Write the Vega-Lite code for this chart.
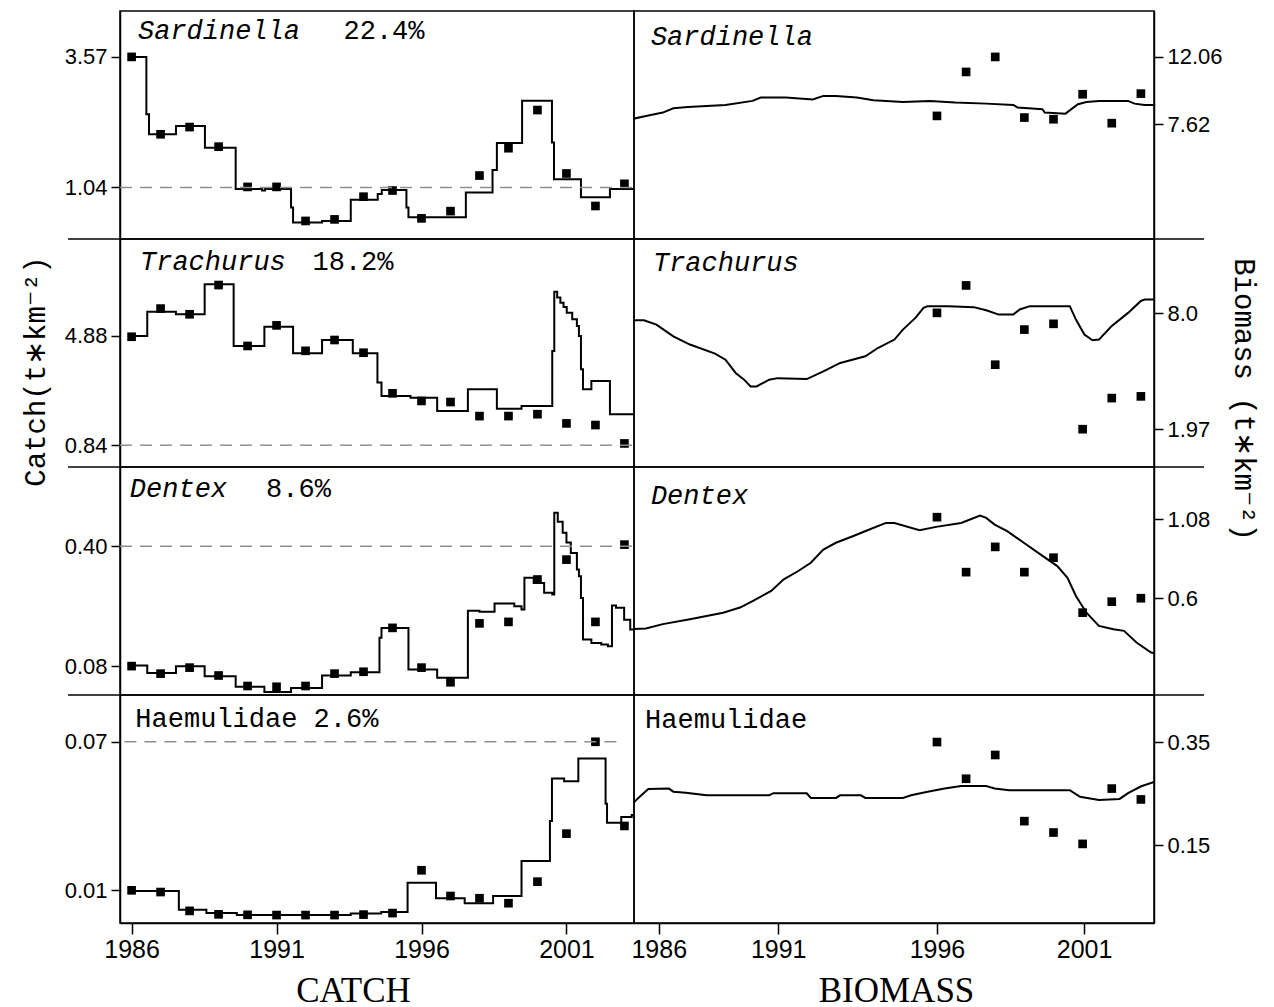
{
"$schema": "https://vega.github.io/schema/vega-lite/v6.json",
"background": "white",
"padding": {"left": 20, "top": 10, "right": 5, "bottom": 5},
"columns": 2,
"spacing": 0,
"bounds": "flush",
"align": "each",
"config": {
  "font": "Liberation Sans",
  "view": {"stroke": "black", "strokeWidth": 1.5},
  "axis": {"grid": false, "domainColor": "black", "domainWidth": 1.5, "tickColor": "black", "tickWidth": 1.5, "labelColor": "black", "titleColor": "black", "labelFont": "Liberation Sans", "labelFontSize": 22, "tickSize": 9, "labelPadding": 4}
},
"datasets": {
  "catch_pts": [
    {"sp":"Sardinella","year":1986,"v":3.57},{"sp":"Sardinella","year":1987,"v":2.07},{"sp":"Sardinella","year":1988,"v":2.21},{"sp":"Sardinella","year":1989,"v":1.83},{"sp":"Sardinella","year":1990,"v":1.05},{"sp":"Sardinella","year":1991,"v":1.05},{"sp":"Sardinella","year":1992,"v":0.39},{"sp":"Sardinella","year":1993,"v":0.42},{"sp":"Sardinella","year":1994,"v":0.86},{"sp":"Sardinella","year":1995,"v":0.98},{"sp":"Sardinella","year":1996,"v":0.44},{"sp":"Sardinella","year":1997,"v":0.58},{"sp":"Sardinella","year":1998,"v":1.27},{"sp":"Sardinella","year":1999,"v":1.80},{"sp":"Sardinella","year":2000,"v":2.54},{"sp":"Sardinella","year":2001,"v":1.31},{"sp":"Sardinella","year":2002,"v":0.68},{"sp":"Sardinella","year":2003,"v":1.11},
    {"sp":"Trachurus","year":1986,"v":4.85},{"sp":"Trachurus","year":1987,"v":5.89},{"sp":"Trachurus","year":1988,"v":5.68},{"sp":"Trachurus","year":1989,"v":6.76},{"sp":"Trachurus","year":1990,"v":4.51},{"sp":"Trachurus","year":1991,"v":5.27},{"sp":"Trachurus","year":1992,"v":4.33},{"sp":"Trachurus","year":1993,"v":4.73},{"sp":"Trachurus","year":1994,"v":4.26},{"sp":"Trachurus","year":1995,"v":2.76},{"sp":"Trachurus","year":1996,"v":2.48},{"sp":"Trachurus","year":1997,"v":2.44},{"sp":"Trachurus","year":1998,"v":1.92},{"sp":"Trachurus","year":1999,"v":1.92},{"sp":"Trachurus","year":2000,"v":1.99},{"sp":"Trachurus","year":2001,"v":1.65},{"sp":"Trachurus","year":2002,"v":1.59},{"sp":"Trachurus","year":2003,"v":0.91},
    {"sp":"Dentex","year":1986,"v":0.080},{"sp":"Dentex","year":1987,"v":0.060},{"sp":"Dentex","year":1988,"v":0.076},{"sp":"Dentex","year":1989,"v":0.055},{"sp":"Dentex","year":1990,"v":0.027},{"sp":"Dentex","year":1991,"v":0.025},{"sp":"Dentex","year":1992,"v":0.027},{"sp":"Dentex","year":1993,"v":0.060},{"sp":"Dentex","year":1994,"v":0.065},{"sp":"Dentex","year":1995,"v":0.182},{"sp":"Dentex","year":1996,"v":0.076},{"sp":"Dentex","year":1997,"v":0.037},{"sp":"Dentex","year":1998,"v":0.194},{"sp":"Dentex","year":1999,"v":0.198},{"sp":"Dentex","year":2000,"v":0.311},{"sp":"Dentex","year":2001,"v":0.364},{"sp":"Dentex","year":2002,"v":0.198},{"sp":"Dentex","year":2003,"v":0.404},
    {"sp":"Haemulidae","year":1986,"v":0.0100},{"sp":"Haemulidae","year":1987,"v":0.0093},{"sp":"Haemulidae","year":1988,"v":0.0017},{"sp":"Haemulidae","year":1989,"v":0.0003},{"sp":"Haemulidae","year":1990,"v":0.0001},{"sp":"Haemulidae","year":1991,"v":0.0},{"sp":"Haemulidae","year":1992,"v":0.0},{"sp":"Haemulidae","year":1993,"v":0.0},{"sp":"Haemulidae","year":1994,"v":0.0002},{"sp":"Haemulidae","year":1995,"v":0.0008},{"sp":"Haemulidae","year":1996,"v":0.0181},{"sp":"Haemulidae","year":1997,"v":0.0077},{"sp":"Haemulidae","year":1998,"v":0.0068},{"sp":"Haemulidae","year":1999,"v":0.0048},{"sp":"Haemulidae","year":2000,"v":0.0135},{"sp":"Haemulidae","year":2001,"v":0.0329},{"sp":"Haemulidae","year":2002,"v":0.0700},{"sp":"Haemulidae","year":2003,"v":0.0360}
  ],
  "catch_line": [
    {"sp":"Sardinella","year":1986.0,"v":3.57},{"sp":"Sardinella","year":1986.51,"v":2.46},{"sp":"Sardinella","year":1986.6,"v":2.07},{"sp":"Sardinella","year":1987.53,"v":2.23},{"sp":"Sardinella","year":1988.53,"v":1.81},{"sp":"Sardinella","year":1989.59,"v":1.01},{"sp":"Sardinella","year":1990.5,"v":0.98},{"sp":"Sardinella","year":1990.6,"v":1.01},{"sp":"Sardinella","year":1991.5,"v":0.65},{"sp":"Sardinella","year":1991.57,"v":0.36},{"sp":"Sardinella","year":1992.57,"v":0.39},{"sp":"Sardinella","year":1993.56,"v":0.80},{"sp":"Sardinella","year":1994.49,"v":0.91},{"sp":"Sardinella","year":1994.63,"v":0.99},{"sp":"Sardinella","year":1995.48,"v":0.65},{"sp":"Sardinella","year":1995.55,"v":0.46},{"sp":"Sardinella","year":1997.53,"v":0.94},{"sp":"Sardinella","year":1998.45,"v":1.38},{"sp":"Sardinella","year":1998.6,"v":1.90},{"sp":"Sardinella","year":1999.47,"v":2.72},{"sp":"Sardinella","year":2000.5,"v":1.91},{"sp":"Sardinella","year":2000.57,"v":1.20},{"sp":"Sardinella","year":2001.5,"v":0.85},{"sp":"Sardinella","year":2002.5,"v":1.01},{"sp":"Sardinella","year":2003.33,"v":1.01},
    {"sp":"Trachurus","year":1986.0,"v":4.88},{"sp":"Trachurus","year":1986.54,"v":5.77},{"sp":"Trachurus","year":1987.53,"v":5.68},{"sp":"Trachurus","year":1988.52,"v":6.79},{"sp":"Trachurus","year":1989.52,"v":4.51},{"sp":"Trachurus","year":1990.58,"v":5.22},{"sp":"Trachurus","year":1991.57,"v":4.24},{"sp":"Trachurus","year":1992.57,"v":4.73},{"sp":"Trachurus","year":1993.63,"v":4.24},{"sp":"Trachurus","year":1994.48,"v":3.16},{"sp":"Trachurus","year":1994.62,"v":2.66},{"sp":"Trachurus","year":1995.62,"v":2.60},{"sp":"Trachurus","year":1996.54,"v":2.11},{"sp":"Trachurus","year":1997.6,"v":2.91},{"sp":"Trachurus","year":1998.6,"v":2.19},{"sp":"Trachurus","year":1999.45,"v":2.29},{"sp":"Trachurus","year":2000.51,"v":4.32},{"sp":"Trachurus","year":2000.58,"v":6.51},{"sp":"Trachurus","year":2000.68,"v":6.30},{"sp":"Trachurus","year":2000.79,"v":6.11},{"sp":"Trachurus","year":2000.9,"v":5.95},{"sp":"Trachurus","year":2001.01,"v":5.74},{"sp":"Trachurus","year":2001.2,"v":5.50},{"sp":"Trachurus","year":2001.36,"v":5.25},{"sp":"Trachurus","year":2001.43,"v":4.88},{"sp":"Trachurus","year":2001.5,"v":3.65},{"sp":"Trachurus","year":2001.57,"v":2.91},{"sp":"Trachurus","year":2001.86,"v":3.22},{"sp":"Trachurus","year":2002.5,"v":1.99},{"sp":"Trachurus","year":2003.33,"v":1.99},
    {"sp":"Dentex","year":1986.0,"v":0.082},{"sp":"Dentex","year":1986.54,"v":0.062},{"sp":"Dentex","year":1987.53,"v":0.080},{"sp":"Dentex","year":1988.52,"v":0.053},{"sp":"Dentex","year":1989.59,"v":0.025},{"sp":"Dentex","year":1990.58,"v":0.011},{"sp":"Dentex","year":1991.5,"v":0.022},{"sp":"Dentex","year":1992.57,"v":0.055},{"sp":"Dentex","year":1993.56,"v":0.064},{"sp":"Dentex","year":1994.55,"v":0.156},{"sp":"Dentex","year":1994.62,"v":0.182},{"sp":"Dentex","year":1995.55,"v":0.071},{"sp":"Dentex","year":1996.54,"v":0.049},{"sp":"Dentex","year":1997.6,"v":0.228},{"sp":"Dentex","year":1998.0,"v":0.225},{"sp":"Dentex","year":1998.52,"v":0.247},{"sp":"Dentex","year":1999.2,"v":0.240},{"sp":"Dentex","year":1999.45,"v":0.231},{"sp":"Dentex","year":1999.55,"v":0.316},{"sp":"Dentex","year":1999.87,"v":0.302},{"sp":"Dentex","year":2000.23,"v":0.276},{"sp":"Dentex","year":2000.51,"v":0.271},{"sp":"Dentex","year":2000.58,"v":0.489},{"sp":"Dentex","year":2000.7,"v":0.465},{"sp":"Dentex","year":2000.87,"v":0.436},{"sp":"Dentex","year":2001.0,"v":0.410},{"sp":"Dentex","year":2001.15,"v":0.382},{"sp":"Dentex","year":2001.36,"v":0.338},{"sp":"Dentex","year":2001.43,"v":0.320},{"sp":"Dentex","year":2001.5,"v":0.262},{"sp":"Dentex","year":2001.57,"v":0.151},{"sp":"Dentex","year":2001.86,"v":0.142},{"sp":"Dentex","year":2002.2,"v":0.138},{"sp":"Dentex","year":2002.43,"v":0.133},{"sp":"Dentex","year":2002.57,"v":0.242},{"sp":"Dentex","year":2002.71,"v":0.236},{"sp":"Dentex","year":2002.99,"v":0.204},{"sp":"Dentex","year":2003.2,"v":0.178},{"sp":"Dentex","year":2003.33,"v":0.178},
    {"sp":"Haemulidae","year":1986.0,"v":0.0097},{"sp":"Haemulidae","year":1987.63,"v":0.0022},{"sp":"Haemulidae","year":1988.58,"v":0.0008},{"sp":"Haemulidae","year":1989.63,"v":0.0},{"sp":"Haemulidae","year":1993.56,"v":0.0006},{"sp":"Haemulidae","year":1994.61,"v":0.0012},{"sp":"Haemulidae","year":1995.52,"v":0.0131},{"sp":"Haemulidae","year":1996.5,"v":0.0068},{"sp":"Haemulidae","year":1997.49,"v":0.0048},{"sp":"Haemulidae","year":1998.47,"v":0.0077},{"sp":"Haemulidae","year":1999.45,"v":0.0218},{"sp":"Haemulidae","year":2000.43,"v":0.0380},{"sp":"Haemulidae","year":2000.5,"v":0.0552},{"sp":"Haemulidae","year":2000.92,"v":0.0541},{"sp":"Haemulidae","year":2001.41,"v":0.0633},{"sp":"Haemulidae","year":2002.35,"v":0.0450},{"sp":"Haemulidae","year":2002.4,"v":0.0373},{"sp":"Haemulidae","year":2002.89,"v":0.0396},{"sp":"Haemulidae","year":2003.25,"v":0.0404},{"sp":"Haemulidae","year":2003.33,"v":0.0404}
  ],
  "bio_pts": [
    {"sp":"Sardinella","year":1996,"v":8.17},{"sp":"Sardinella","year":1997,"v":11.07},{"sp":"Sardinella","year":1998,"v":12.06},{"sp":"Sardinella","year":1999,"v":8.06},{"sp":"Sardinella","year":2000,"v":7.95},{"sp":"Sardinella","year":2001,"v":9.60},{"sp":"Sardinella","year":2002,"v":7.69},{"sp":"Sardinella","year":2003,"v":9.64},
    {"sp":"Trachurus","year":1996,"v":8.03},{"sp":"Trachurus","year":1997,"v":9.46},{"sp":"Trachurus","year":1998,"v":5.33},{"sp":"Trachurus","year":1999,"v":7.16},{"sp":"Trachurus","year":2000,"v":7.46},{"sp":"Trachurus","year":2001,"v":1.97},{"sp":"Trachurus","year":2002,"v":3.59},{"sp":"Trachurus","year":2003,"v":3.68},
    {"sp":"Dentex","year":1996,"v":1.094},{"sp":"Dentex","year":1997,"v":0.759},{"sp":"Dentex","year":1998,"v":0.913},{"sp":"Dentex","year":1999,"v":0.759},{"sp":"Dentex","year":2000,"v":0.847},{"sp":"Dentex","year":2001,"v":0.512},{"sp":"Dentex","year":2002,"v":0.579},{"sp":"Dentex","year":2003,"v":0.600},
    {"sp":"Haemulidae","year":1996,"v":0.350},{"sp":"Haemulidae","year":1997,"v":0.279},{"sp":"Haemulidae","year":1998,"v":0.325},{"sp":"Haemulidae","year":1999,"v":0.197},{"sp":"Haemulidae","year":2000,"v":0.175},{"sp":"Haemulidae","year":2001,"v":0.153},{"sp":"Haemulidae","year":2002,"v":0.260},{"sp":"Haemulidae","year":2003,"v":0.239}
  ],
  "bio_line": [
    {"sp":"Sardinella","year":1985.51,"v":7.95},{"sp":"Sardinella","year":1986.01,"v":8.17},{"sp":"Sardinella","year":1986.59,"v":8.39},{"sp":"Sardinella","year":1986.95,"v":8.67},{"sp":"Sardinella","year":1987.45,"v":8.76},{"sp":"Sardinella","year":1988.74,"v":8.89},{"sp":"Sardinella","year":1989.67,"v":9.16},{"sp":"Sardinella","year":1989.95,"v":9.38},{"sp":"Sardinella","year":1990.81,"v":9.38},{"sp":"Sardinella","year":1991.74,"v":9.25},{"sp":"Sardinella","year":1992.10,"v":9.49},{"sp":"Sardinella","year":1992.53,"v":9.49},{"sp":"Sardinella","year":1993.25,"v":9.38},{"sp":"Sardinella","year":1993.82,"v":9.20},{"sp":"Sardinella","year":1994.83,"v":9.09},{"sp":"Sardinella","year":1995.76,"v":9.16},{"sp":"Sardinella","year":1996.62,"v":9.05},{"sp":"Sardinella","year":1997.69,"v":8.98},{"sp":"Sardinella","year":1998.62,"v":8.89},{"sp":"Sardinella","year":1998.77,"v":8.72},{"sp":"Sardinella","year":1999.62,"v":8.61},{"sp":"Sardinella","year":1999.70,"v":8.39},{"sp":"Sardinella","year":2000.41,"v":8.32},{"sp":"Sardinella","year":2000.84,"v":8.94},{"sp":"Sardinella","year":2001.13,"v":9.09},{"sp":"Sardinella","year":2001.56,"v":9.16},{"sp":"Sardinella","year":2002.56,"v":9.16},{"sp":"Sardinella","year":2002.78,"v":8.98},{"sp":"Sardinella","year":2003.13,"v":8.89},{"sp":"Sardinella","year":2003.56,"v":8.89},
    {"sp":"Trachurus","year":1985.51,"v":7.65},{"sp":"Trachurus","year":1985.94,"v":7.65},{"sp":"Trachurus","year":1986.37,"v":7.42},{"sp":"Trachurus","year":1986.95,"v":6.81},{"sp":"Trachurus","year":1987.52,"v":6.38},{"sp":"Trachurus","year":1988.38,"v":5.91},{"sp":"Trachurus","year":1988.74,"v":5.59},{"sp":"Trachurus","year":1989.09,"v":4.90},{"sp":"Trachurus","year":1989.38,"v":4.55},{"sp":"Trachurus","year":1989.60,"v":4.20},{"sp":"Trachurus","year":1989.81,"v":4.20},{"sp":"Trachurus","year":1990.24,"v":4.55},{"sp":"Trachurus","year":1990.53,"v":4.63},{"sp":"Trachurus","year":1991.53,"v":4.58},{"sp":"Trachurus","year":1992.10,"v":4.98},{"sp":"Trachurus","year":1992.68,"v":5.42},{"sp":"Trachurus","year":1993.54,"v":5.77},{"sp":"Trachurus","year":1993.97,"v":6.20},{"sp":"Trachurus","year":1994.54,"v":6.64},{"sp":"Trachurus","year":1994.83,"v":7.16},{"sp":"Trachurus","year":1995.26,"v":7.77},{"sp":"Trachurus","year":1995.54,"v":8.29},{"sp":"Trachurus","year":1995.68,"v":8.38},{"sp":"Trachurus","year":1996.40,"v":8.38},{"sp":"Trachurus","year":1997.26,"v":8.33},{"sp":"Trachurus","year":1997.69,"v":8.17},{"sp":"Trachurus","year":1998.12,"v":7.94},{"sp":"Trachurus","year":1998.62,"v":7.94},{"sp":"Trachurus","year":1998.84,"v":8.21},{"sp":"Trachurus","year":1999.19,"v":8.38},{"sp":"Trachurus","year":2000.56,"v":8.38},{"sp":"Trachurus","year":2000.77,"v":7.68},{"sp":"Trachurus","year":2001.06,"v":6.90},{"sp":"Trachurus","year":2001.34,"v":6.60},{"sp":"Trachurus","year":2001.56,"v":6.64},{"sp":"Trachurus","year":2001.99,"v":7.33},{"sp":"Trachurus","year":2002.56,"v":8.03},{"sp":"Trachurus","year":2002.99,"v":8.64},{"sp":"Trachurus","year":2003.13,"v":8.73},{"sp":"Trachurus","year":2003.56,"v":8.73},
    {"sp":"Dentex","year":1985.51,"v":0.411},{"sp":"Dentex","year":1986.01,"v":0.415},{"sp":"Dentex","year":1986.59,"v":0.442},{"sp":"Dentex","year":1987.52,"v":0.472},{"sp":"Dentex","year":1988.66,"v":0.512},{"sp":"Dentex","year":1989.24,"v":0.543},{"sp":"Dentex","year":1989.67,"v":0.583},{"sp":"Dentex","year":1990.31,"v":0.644},{"sp":"Dentex","year":1990.74,"v":0.715},{"sp":"Dentex","year":1991.24,"v":0.766},{"sp":"Dentex","year":1991.67,"v":0.816},{"sp":"Dentex","year":1992.10,"v":0.897},{"sp":"Dentex","year":1992.53,"v":0.938},{"sp":"Dentex","year":1993.11,"v":0.978},{"sp":"Dentex","year":1993.68,"v":1.019},{"sp":"Dentex","year":1994.25,"v":1.059},{"sp":"Dentex","year":1994.54,"v":1.059},{"sp":"Dentex","year":1995.40,"v":1.015},{"sp":"Dentex","year":1995.97,"v":1.035},{"sp":"Dentex","year":1996.83,"v":1.059},{"sp":"Dentex","year":1997.48,"v":1.104},{"sp":"Dentex","year":1997.69,"v":1.090},{"sp":"Dentex","year":1997.98,"v":1.049},{"sp":"Dentex","year":1998.41,"v":1.009},{"sp":"Dentex","year":1998.98,"v":0.938},{"sp":"Dentex","year":1999.55,"v":0.867},{"sp":"Dentex","year":2000.13,"v":0.796},{"sp":"Dentex","year":2000.48,"v":0.725},{"sp":"Dentex","year":2000.77,"v":0.614},{"sp":"Dentex","year":2001.13,"v":0.512},{"sp":"Dentex","year":2001.56,"v":0.431},{"sp":"Dentex","year":2002.06,"v":0.411},{"sp":"Dentex","year":2002.42,"v":0.401},{"sp":"Dentex","year":2002.85,"v":0.330},{"sp":"Dentex","year":2003.35,"v":0.269},{"sp":"Dentex","year":2003.56,"v":0.259},
    {"sp":"Haemulidae","year":1985.51,"v":0.228},{"sp":"Haemulidae","year":1985.73,"v":0.241},{"sp":"Haemulidae","year":1986.09,"v":0.259},{"sp":"Haemulidae","year":1986.80,"v":0.260},{"sp":"Haemulidae","year":1986.95,"v":0.254},{"sp":"Haemulidae","year":1987.38,"v":0.252},{"sp":"Haemulidae","year":1988.09,"v":0.247},{"sp":"Haemulidae","year":1990.24,"v":0.247},{"sp":"Haemulidae","year":1990.38,"v":0.251},{"sp":"Haemulidae","year":1991.53,"v":0.251},{"sp":"Haemulidae","year":1991.67,"v":0.242},{"sp":"Haemulidae","year":1992.53,"v":0.242},{"sp":"Haemulidae","year":1992.68,"v":0.247},{"sp":"Haemulidae","year":1993.39,"v":0.247},{"sp":"Haemulidae","year":1993.54,"v":0.242},{"sp":"Haemulidae","year":1994.83,"v":0.242},{"sp":"Haemulidae","year":1995.11,"v":0.247},{"sp":"Haemulidae","year":1995.68,"v":0.254},{"sp":"Haemulidae","year":1996.26,"v":0.260},{"sp":"Haemulidae","year":1996.83,"v":0.265},{"sp":"Haemulidae","year":1997.69,"v":0.265},{"sp":"Haemulidae","year":1997.98,"v":0.260},{"sp":"Haemulidae","year":1998.48,"v":0.257},{"sp":"Haemulidae","year":2000.56,"v":0.257},{"sp":"Haemulidae","year":2000.91,"v":0.244},{"sp":"Haemulidae","year":2001.56,"v":0.238},{"sp":"Haemulidae","year":2002.27,"v":0.240},{"sp":"Haemulidae","year":2002.56,"v":0.251},{"sp":"Haemulidae","year":2002.99,"v":0.264},{"sp":"Haemulidae","year":2003.42,"v":0.272},{"sp":"Haemulidae","year":2003.56,"v":0.272}
  ]
},
"concat": [
  {
    "width": 514, "height": 228,
    "layer": [
      {"data": {"name": "catch_line"}, "transform": [{"filter": "datum.sp == 'Sardinella'"}],
       "mark": {"type": "line", "interpolate": "step-after", "color": "black", "strokeWidth": 2, "clip": true},
       "encoding": {"x": {"field": "year", "type": "quantitative", "scale": {"domain": [1985.6, 2003.33], "nice": false, "zero": false}, "axis": {"labels": false, "ticks": false, "domain": false, "title": null}},
                    "y": {"field": "v", "type": "quantitative", "scale": {"domain": [0.04, 4.46], "nice": false, "zero": false}, "axis": {"orient": "left", "values": [1.04, 3.57], "format": ".2f", "title": null}}}},
      {"data": {"name": "catch_pts"}, "transform": [{"filter": "datum.sp == 'Sardinella'"}],
       "mark": {"type": "square", "size": 75, "color": "black", "opacity": 1},
       "encoding": {"x": {"field": "year", "type": "quantitative", "axis": {"labels": false, "ticks": false, "domain": false, "title": null}}, "y": {"field": "v", "type": "quantitative", "axis": {"orient": "left", "values": [1.04, 3.57], "format": ".2f", "title": null}}}},
      {"data": {"values": [{}]}, "mark": {"type": "rule", "color": "#8f8f8f", "strokeWidth": 1.5, "strokeDash": [12, 8]},
       "encoding": {"x": {"datum": 1985.6, "type": "quantitative", "axis": {"labels": false, "ticks": false, "domain": false, "title": null}}, "x2": {"datum": 2003.33}, "y": {"datum": 1.04, "type": "quantitative", "axis": {"orient": "left", "values": [1.04, 3.57], "format": ".2f", "title": null}}}},
      {"data": {"values": [{}]}, "mark": {"type": "rule", "color": "black", "strokeWidth": 1.5},
       "encoding": {"x": {"datum": 1983.81, "type": "quantitative", "axis": {"labels": false, "ticks": false, "domain": false, "title": null}}, "x2": {"datum": 1985.6}, "y": {"datum": 0.04, "type": "quantitative", "axis": {"orient": "left", "values": [1.04, 3.57], "format": ".2f", "title": null}}}},
      {"data": {"values": [{}]}, "mark": {"type": "text", "font": "Liberation Mono", "fontSize": 27, "fontStyle": "italic", "align": "left", "baseline": "middle", "color": "black"},
       "encoding": {"x": {"datum": 1986.22, "type": "quantitative", "axis": {"labels": false, "ticks": false, "domain": false, "title": null}}, "y": {"datum": 4.07, "type": "quantitative", "axis": {"orient": "left", "values": [1.04, 3.57], "format": ".2f", "title": null}}, "text": {"value": "Sardinella"}}},
      {"data": {"values": [{}]}, "mark": {"type": "text", "font": "Liberation Mono", "fontSize": 27, "align": "left", "baseline": "middle", "color": "black"},
       "encoding": {"x": {"datum": 1993.31, "type": "quantitative", "axis": {"labels": false, "ticks": false, "domain": false, "title": null}}, "y": {"datum": 4.07, "type": "quantitative", "axis": {"orient": "left", "values": [1.04, 3.57], "format": ".2f", "title": null}}, "text": {"value": "22.4%"}}}
    ]
  },
  {
    "width": 520, "height": 228,
    "layer": [
      {"data": {"name": "bio_line"}, "transform": [{"filter": "datum.sp == 'Sardinella'"}],
       "mark": {"type": "line", "color": "black", "strokeWidth": 2, "clip": true},
       "encoding": {"x": {"field": "year", "type": "quantitative", "scale": {"domain": [1985.6, 2003.45], "nice": false, "zero": false}, "axis": {"labels": false, "ticks": false, "domain": false, "title": null}},
                    "y": {"field": "v", "type": "quantitative", "scale": {"domain": [0.05, 15.09], "nice": false, "zero": false}, "axis": {"orient": "right", "values": [7.62, 12.06], "format": ".2f", "title": null}}}},
      {"data": {"name": "bio_pts"}, "transform": [{"filter": "datum.sp == 'Sardinella'"}],
       "mark": {"type": "square", "size": 75, "color": "black", "opacity": 1},
       "encoding": {"x": {"field": "year", "type": "quantitative", "axis": {"labels": false, "ticks": false, "domain": false, "title": null}}, "y": {"field": "v", "type": "quantitative", "axis": {"orient": "right", "values": [7.62, 12.06], "format": ".2f", "title": null}}}},
      {"data": {"values": [{}]}, "mark": {"type": "rule", "color": "black", "strokeWidth": 1.5},
       "encoding": {"x": {"datum": 2003.45, "type": "quantitative", "axis": {"labels": false, "ticks": false, "domain": false, "title": null}}, "x2": {"datum": 2005.17}, "y": {"datum": 0.05, "type": "quantitative", "axis": {"orient": "right", "values": [7.62, 12.06], "format": ".2f", "title": null}}}},
      {"data": {"values": [{}]}, "mark": {"type": "text", "font": "Liberation Mono", "fontSize": 27, "fontStyle": "italic", "align": "left", "baseline": "middle", "color": "black"},
       "encoding": {"x": {"datum": 1986.18, "type": "quantitative", "axis": {"labels": false, "ticks": false, "domain": false, "title": null}}, "y": {"datum": 13.38, "type": "quantitative", "axis": {"orient": "right", "values": [7.62, 12.06], "format": ".2f", "title": null}}, "text": {"value": "Sardinella"}}}
    ]
  },
  {
    "width": 514, "height": 228,
    "layer": [
      {"data": {"name": "catch_line"}, "transform": [{"filter": "datum.sp == 'Trachurus'"}],
       "mark": {"type": "line", "interpolate": "step-after", "color": "black", "strokeWidth": 2, "clip": true},
       "encoding": {"x": {"field": "year", "type": "quantitative", "scale": {"domain": [1985.6, 2003.33], "nice": false, "zero": false}, "axis": {"labels": false, "ticks": false, "domain": false, "title": null}},
                    "y": {"field": "v", "type": "quantitative", "scale": {"domain": [0.04, 8.46], "nice": false, "zero": false}, "axis": {"orient": "left", "values": [0.84, 4.88], "format": ".2f", "title": "Catch(t∗km⁻²)", "titleX": -85, "titleY": 132, "titleAngle": -90, "titleAlign": "center", "titleBaseline": "middle", "titleFont": "Liberation Mono", "titleFontSize": 29, "titleFontWeight": "normal"}}}},
      {"data": {"name": "catch_pts"}, "transform": [{"filter": "datum.sp == 'Trachurus'"}],
       "mark": {"type": "square", "size": 75, "color": "black", "opacity": 1},
       "encoding": {"x": {"field": "year", "type": "quantitative", "axis": {"labels": false, "ticks": false, "domain": false, "title": null}}, "y": {"field": "v", "type": "quantitative", "axis": {"orient": "left", "values": [0.84, 4.88], "format": ".2f", "title": "Catch(t∗km⁻²)", "titleX": -85, "titleY": 132, "titleAngle": -90, "titleAlign": "center", "titleBaseline": "middle", "titleFont": "Liberation Mono", "titleFontSize": 29, "titleFontWeight": "normal"}}}},
      {"data": {"values": [{}]}, "mark": {"type": "rule", "color": "#8f8f8f", "strokeWidth": 1.5, "strokeDash": [12, 8]},
       "encoding": {"x": {"datum": 1985.6, "type": "quantitative", "axis": {"labels": false, "ticks": false, "domain": false, "title": null}}, "x2": {"datum": 2003.33}, "y": {"datum": 0.84, "type": "quantitative", "axis": {"orient": "left", "values": [0.84, 4.88], "format": ".2f", "title": "Catch(t∗km⁻²)", "titleX": -85, "titleY": 132, "titleAngle": -90, "titleAlign": "center", "titleBaseline": "middle", "titleFont": "Liberation Mono", "titleFontSize": 29, "titleFontWeight": "normal"}}}},
      {"data": {"values": [{}]}, "mark": {"type": "rule", "color": "black", "strokeWidth": 1.5},
       "encoding": {"x": {"datum": 1983.81, "type": "quantitative", "axis": {"labels": false, "ticks": false, "domain": false, "title": null}}, "x2": {"datum": 1985.6}, "y": {"datum": 0.04, "type": "quantitative", "axis": {"orient": "left", "values": [0.84, 4.88], "format": ".2f", "title": "Catch(t∗km⁻²)", "titleX": -85, "titleY": 132, "titleAngle": -90, "titleAlign": "center", "titleBaseline": "middle", "titleFont": "Liberation Mono", "titleFontSize": 29, "titleFontWeight": "normal"}}}},
      {"data": {"values": [{}]}, "mark": {"type": "text", "font": "Liberation Mono", "fontSize": 27, "fontStyle": "italic", "align": "left", "baseline": "middle", "color": "black"},
       "encoding": {"x": {"datum": 1986.29, "type": "quantitative", "axis": {"labels": false, "ticks": false, "domain": false, "title": null}}, "y": {"datum": 7.61, "type": "quantitative", "axis": {"orient": "left", "values": [0.84, 4.88], "format": ".2f", "title": "Catch(t∗km⁻²)", "titleX": -85, "titleY": 132, "titleAngle": -90, "titleAlign": "center", "titleBaseline": "middle", "titleFont": "Liberation Mono", "titleFontSize": 29, "titleFontWeight": "normal"}}, "text": {"value": "Trachurus"}}},
      {"data": {"values": [{}]}, "mark": {"type": "text", "font": "Liberation Mono", "fontSize": 27, "align": "left", "baseline": "middle", "color": "black"},
       "encoding": {"x": {"datum": 1992.24, "type": "quantitative", "axis": {"labels": false, "ticks": false, "domain": false, "title": null}}, "y": {"datum": 7.61, "type": "quantitative", "axis": {"orient": "left", "values": [0.84, 4.88], "format": ".2f", "title": "Catch(t∗km⁻²)", "titleX": -85, "titleY": 132, "titleAngle": -90, "titleAlign": "center", "titleBaseline": "middle", "titleFont": "Liberation Mono", "titleFontSize": 29, "titleFontWeight": "normal"}}, "text": {"value": "18.2%"}}}
    ]
  },
  {
    "width": 520, "height": 228,
    "layer": [
      {"data": {"name": "bio_line"}, "transform": [{"filter": "datum.sp == 'Trachurus'"}],
       "mark": {"type": "line", "color": "black", "strokeWidth": 2, "clip": true},
       "encoding": {"x": {"field": "year", "type": "quantitative", "scale": {"domain": [1985.6, 2003.45], "nice": false, "zero": false}, "axis": {"labels": false, "ticks": false, "domain": false, "title": null}},
                    "y": {"field": "v", "type": "quantitative", "scale": {"domain": [0, 11.88], "nice": false, "zero": false}, "axis": {"orient": "right", "values": [1.97, 8.0], "labelExpr": "datum.value == 8 ? '8.0' : '1.97'", "title": "Biomass (t∗km⁻²)", "titleX": 89, "titleY": 160, "titleAngle": 90, "titleAlign": "center", "titleBaseline": "middle", "titleFont": "Liberation Mono", "titleFontSize": 29, "titleFontWeight": "normal"}}}},
      {"data": {"name": "bio_pts"}, "transform": [{"filter": "datum.sp == 'Trachurus'"}],
       "mark": {"type": "square", "size": 75, "color": "black", "opacity": 1},
       "encoding": {"x": {"field": "year", "type": "quantitative", "axis": {"labels": false, "ticks": false, "domain": false, "title": null}}, "y": {"field": "v", "type": "quantitative", "axis": {"orient": "right", "values": [1.97, 8.0], "labelExpr": "datum.value == 8 ? '8.0' : '1.97'", "title": "Biomass (t∗km⁻²)", "titleX": 89, "titleY": 160, "titleAngle": 90, "titleAlign": "center", "titleBaseline": "middle", "titleFont": "Liberation Mono", "titleFontSize": 29, "titleFontWeight": "normal"}}}},
      {"data": {"values": [{}]}, "mark": {"type": "rule", "color": "black", "strokeWidth": 1.5},
       "encoding": {"x": {"datum": 2003.45, "type": "quantitative", "axis": {"labels": false, "ticks": false, "domain": false, "title": null}}, "x2": {"datum": 2005.17}, "y": {"datum": 0, "type": "quantitative", "axis": {"orient": "right", "values": [1.97, 8.0], "labelExpr": "datum.value == 8 ? '8.0' : '1.97'", "title": "Biomass (t∗km⁻²)", "titleX": 89, "titleY": 160, "titleAngle": 90, "titleAlign": "center", "titleBaseline": "middle", "titleFont": "Liberation Mono", "titleFontSize": 29, "titleFontWeight": "normal"}}}},
      {"data": {"values": [{}]}, "mark": {"type": "text", "font": "Liberation Mono", "fontSize": 27, "fontStyle": "italic", "align": "left", "baseline": "middle", "color": "black"},
       "encoding": {"x": {"datum": 1986.25, "type": "quantitative", "axis": {"labels": false, "ticks": false, "domain": false, "title": null}}, "y": {"datum": 10.63, "type": "quantitative", "axis": {"orient": "right", "values": [1.97, 8.0], "labelExpr": "datum.value == 8 ? '8.0' : '1.97'", "title": "Biomass (t∗km⁻²)", "titleX": 89, "titleY": 160, "titleAngle": 90, "titleAlign": "center", "titleBaseline": "middle", "titleFont": "Liberation Mono", "titleFontSize": 29, "titleFontWeight": "normal"}}, "text": {"value": "Trachurus"}}}
    ]
  },
  {
    "width": 514, "height": 228,
    "layer": [
      {"data": {"name": "catch_line"}, "transform": [{"filter": "datum.sp == 'Dentex'"}],
       "mark": {"type": "line", "interpolate": "step-after", "color": "black", "strokeWidth": 2, "clip": true},
       "encoding": {"x": {"field": "year", "type": "quantitative", "scale": {"domain": [1985.6, 2003.33], "nice": false, "zero": false}, "axis": {"labels": false, "ticks": false, "domain": false, "title": null}},
                    "y": {"field": "v", "type": "quantitative", "scale": {"domain": [0.003, 0.611], "nice": false, "zero": false}, "axis": {"orient": "left", "values": [0.08, 0.40], "format": ".2f", "title": null}}}},
      {"data": {"name": "catch_pts"}, "transform": [{"filter": "datum.sp == 'Dentex'"}],
       "mark": {"type": "square", "size": 75, "color": "black", "opacity": 1},
       "encoding": {"x": {"field": "year", "type": "quantitative", "axis": {"labels": false, "ticks": false, "domain": false, "title": null}}, "y": {"field": "v", "type": "quantitative", "axis": {"orient": "left", "values": [0.08, 0.40], "format": ".2f", "title": null}}}},
      {"data": {"values": [{}]}, "mark": {"type": "rule", "color": "#8f8f8f", "strokeWidth": 1.5, "strokeDash": [12, 8]},
       "encoding": {"x": {"datum": 1985.6, "type": "quantitative", "axis": {"labels": false, "ticks": false, "domain": false, "title": null}}, "x2": {"datum": 2003.33}, "y": {"datum": 0.40, "type": "quantitative", "axis": {"orient": "left", "values": [0.08, 0.40], "format": ".2f", "title": null}}}},
      {"data": {"values": [{}]}, "mark": {"type": "rule", "color": "black", "strokeWidth": 1.5},
       "encoding": {"x": {"datum": 1983.81, "type": "quantitative", "axis": {"labels": false, "ticks": false, "domain": false, "title": null}}, "x2": {"datum": 1985.6}, "y": {"datum": 0.003, "type": "quantitative", "axis": {"orient": "left", "values": [0.08, 0.40], "format": ".2f", "title": null}}}},
      {"data": {"values": [{}]}, "mark": {"type": "text", "font": "Liberation Mono", "fontSize": 27, "fontStyle": "italic", "align": "left", "baseline": "middle", "color": "black"},
       "encoding": {"x": {"datum": 1985.94, "type": "quantitative", "axis": {"labels": false, "ticks": false, "domain": false, "title": null}}, "y": {"datum": 0.552, "type": "quantitative", "axis": {"orient": "left", "values": [0.08, 0.40], "format": ".2f", "title": null}}, "text": {"value": "Dentex"}}},
      {"data": {"values": [{}]}, "mark": {"type": "text", "font": "Liberation Mono", "fontSize": 27, "align": "left", "baseline": "middle", "color": "black"},
       "encoding": {"x": {"datum": 1990.64, "type": "quantitative", "axis": {"labels": false, "ticks": false, "domain": false, "title": null}}, "y": {"datum": 0.552, "type": "quantitative", "axis": {"orient": "left", "values": [0.08, 0.40], "format": ".2f", "title": null}}, "text": {"value": "8.6%"}}}
    ]
  },
  {
    "width": 520, "height": 228,
    "layer": [
      {"data": {"name": "bio_line"}, "transform": [{"filter": "datum.sp == 'Dentex'"}],
       "mark": {"type": "line", "color": "black", "strokeWidth": 2, "clip": true},
       "encoding": {"x": {"field": "year", "type": "quantitative", "scale": {"domain": [1985.6, 2003.45], "nice": false, "zero": false}, "axis": {"labels": false, "ticks": false, "domain": false, "title": null}},
                    "y": {"field": "v", "type": "quantitative", "scale": {"domain": [0.01, 1.40], "nice": false, "zero": false}, "axis": {"orient": "right", "values": [0.6, 1.08], "labelExpr": "datum.value == 0.6 ? '0.6' : '1.08'", "title": null}}}},
      {"data": {"name": "bio_pts"}, "transform": [{"filter": "datum.sp == 'Dentex'"}],
       "mark": {"type": "square", "size": 75, "color": "black", "opacity": 1},
       "encoding": {"x": {"field": "year", "type": "quantitative", "axis": {"labels": false, "ticks": false, "domain": false, "title": null}}, "y": {"field": "v", "type": "quantitative", "axis": {"orient": "right", "values": [0.6, 1.08], "labelExpr": "datum.value == 0.6 ? '0.6' : '1.08'", "title": null}}}},
      {"data": {"values": [{}]}, "mark": {"type": "rule", "color": "black", "strokeWidth": 1.5},
       "encoding": {"x": {"datum": 2003.45, "type": "quantitative", "axis": {"labels": false, "ticks": false, "domain": false, "title": null}}, "x2": {"datum": 2005.17}, "y": {"datum": 0.01, "type": "quantitative", "axis": {"orient": "right", "values": [0.6, 1.08], "labelExpr": "datum.value == 0.6 ? '0.6' : '1.08'", "title": null}}}},
      {"data": {"values": [{}]}, "mark": {"type": "text", "font": "Liberation Mono", "fontSize": 27, "fontStyle": "italic", "align": "left", "baseline": "middle", "color": "black"},
       "encoding": {"x": {"datum": 1986.18, "type": "quantitative", "axis": {"labels": false, "ticks": false, "domain": false, "title": null}}, "y": {"datum": 1.224, "type": "quantitative", "axis": {"orient": "right", "values": [0.6, 1.08], "labelExpr": "datum.value == 0.6 ? '0.6' : '1.08'", "title": null}}, "text": {"value": "Dentex"}}}
    ]
  },
  {
    "width": 514, "height": 228,
    "layer": [
      {"data": {"name": "catch_line"}, "transform": [{"filter": "datum.sp == 'Haemulidae'"}],
       "mark": {"type": "line", "interpolate": "step-after", "color": "black", "strokeWidth": 2, "clip": true},
       "encoding": {"x": {"field": "year", "type": "quantitative", "scale": {"domain": [1985.6, 2003.33], "nice": false, "zero": false}, "axis": {"orient": "bottom", "values": [1986, 1991, 1996, 2001], "format": "d", "labelFontSize": 25, "tickSize": 11, "labelPadding": 3, "title": "CATCH", "titleFont": "Liberation Serif", "titleFontSize": 35, "titleFontWeight": "normal", "titleX": 233, "titleY": 78, "titleBaseline": "alphabetic", "titleAlign": "center"}},
                    "y": {"field": "v", "type": "quantitative", "scale": {"domain": [-0.0032, 0.0889], "nice": false, "zero": false}, "axis": {"orient": "left", "values": [0.01, 0.07], "format": ".2f", "title": null}}}},
      {"data": {"name": "catch_pts"}, "transform": [{"filter": "datum.sp == 'Haemulidae'"}],
       "mark": {"type": "square", "size": 75, "color": "black", "opacity": 1},
       "encoding": {"x": {"field": "year", "type": "quantitative", "axis": {"orient": "bottom", "values": [1986, 1991, 1996, 2001], "format": "d", "labelFontSize": 25, "tickSize": 11, "labelPadding": 3, "title": "CATCH", "titleFont": "Liberation Serif", "titleFontSize": 35, "titleFontWeight": "normal", "titleX": 233, "titleY": 78, "titleBaseline": "alphabetic", "titleAlign": "center"}}, "y": {"field": "v", "type": "quantitative", "axis": {"orient": "left", "values": [0.01, 0.07], "format": ".2f", "title": null}}}},
      {"data": {"values": [{}]}, "mark": {"type": "rule", "color": "#8f8f8f", "strokeWidth": 1.5, "strokeDash": [12, 8]},
       "encoding": {"x": {"datum": 1985.75, "type": "quantitative", "axis": {"orient": "bottom", "values": [1986, 1991, 1996, 2001], "format": "d", "labelFontSize": 25, "tickSize": 11, "labelPadding": 3, "title": "CATCH", "titleFont": "Liberation Serif", "titleFontSize": 35, "titleFontWeight": "normal", "titleX": 233, "titleY": 78, "titleBaseline": "alphabetic", "titleAlign": "center"}}, "x2": {"datum": 2002.8}, "y": {"datum": 0.07, "type": "quantitative", "axis": {"orient": "left", "values": [0.01, 0.07], "format": ".2f", "title": null}}}},
      {"data": {"values": [{}]}, "mark": {"type": "text", "font": "Liberation Mono", "fontSize": 27, "align": "left", "baseline": "middle", "color": "black"},
       "encoding": {"x": {"datum": 1986.13, "type": "quantitative", "axis": {"orient": "bottom", "values": [1986, 1991, 1996, 2001], "format": "d", "labelFontSize": 25, "tickSize": 11, "labelPadding": 3, "title": "CATCH", "titleFont": "Liberation Serif", "titleFontSize": 35, "titleFontWeight": "normal", "titleX": 233, "titleY": 78, "titleBaseline": "alphabetic", "titleAlign": "center"}}, "y": {"datum": 0.0792, "type": "quantitative", "axis": {"orient": "left", "values": [0.01, 0.07], "format": ".2f", "title": null}}, "text": {"value": "Haemulidae 2.6%"}}}
    ]
  },
  {
    "width": 520, "height": 228,
    "layer": [
      {"data": {"name": "bio_line"}, "transform": [{"filter": "datum.sp == 'Haemulidae'"}],
       "mark": {"type": "line", "color": "black", "strokeWidth": 2, "clip": true},
       "encoding": {"x": {"field": "year", "type": "quantitative", "scale": {"domain": [1985.6, 2003.45], "nice": false, "zero": false}, "axis": {"orient": "bottom", "values": [1986.45, 1990.55, 1996, 2001.05], "labelExpr": "format(round(datum.value), 'd')", "labelFontSize": 25, "tickSize": 11, "labelPadding": 3, "title": "BIOMASS", "titleFont": "Liberation Serif", "titleFontSize": 35, "titleFontWeight": "normal", "titleX": 262, "titleY": 78, "titleBaseline": "alphabetic", "titleAlign": "center"}},
                    "y": {"field": "v", "type": "quantitative", "scale": {"domain": [0, 0.441], "nice": false, "zero": false}, "axis": {"orient": "right", "values": [0.15, 0.35], "format": ".2f", "title": null}}}},
      {"data": {"name": "bio_pts"}, "transform": [{"filter": "datum.sp == 'Haemulidae'"}],
       "mark": {"type": "square", "size": 75, "color": "black", "opacity": 1},
       "encoding": {"x": {"field": "year", "type": "quantitative", "axis": {"orient": "bottom", "values": [1986.45, 1990.55, 1996, 2001.05], "labelExpr": "format(round(datum.value), 'd')", "labelFontSize": 25, "tickSize": 11, "labelPadding": 3, "title": "BIOMASS", "titleFont": "Liberation Serif", "titleFontSize": 35, "titleFontWeight": "normal", "titleX": 262, "titleY": 78, "titleBaseline": "alphabetic", "titleAlign": "center"}}, "y": {"field": "v", "type": "quantitative", "axis": {"orient": "right", "values": [0.15, 0.35], "format": ".2f", "title": null}}}},
      {"data": {"values": [{}]}, "mark": {"type": "text", "font": "Liberation Mono", "fontSize": 27, "align": "left", "baseline": "middle", "color": "black"},
       "encoding": {"x": {"datum": 1985.98, "type": "quantitative", "axis": {"orient": "bottom", "values": [1986.45, 1990.55, 1996, 2001.05], "labelExpr": "format(round(datum.value), 'd')", "labelFontSize": 25, "tickSize": 11, "labelPadding": 3, "title": "BIOMASS", "titleFont": "Liberation Serif", "titleFontSize": 35, "titleFontWeight": "normal", "titleX": 262, "titleY": 78, "titleBaseline": "alphabetic", "titleAlign": "center"}}, "y": {"datum": 0.392, "type": "quantitative", "axis": {"orient": "right", "values": [0.15, 0.35], "format": ".2f", "title": null}}, "text": {"value": "Haemulidae"}}}
    ]
  }
]
}
